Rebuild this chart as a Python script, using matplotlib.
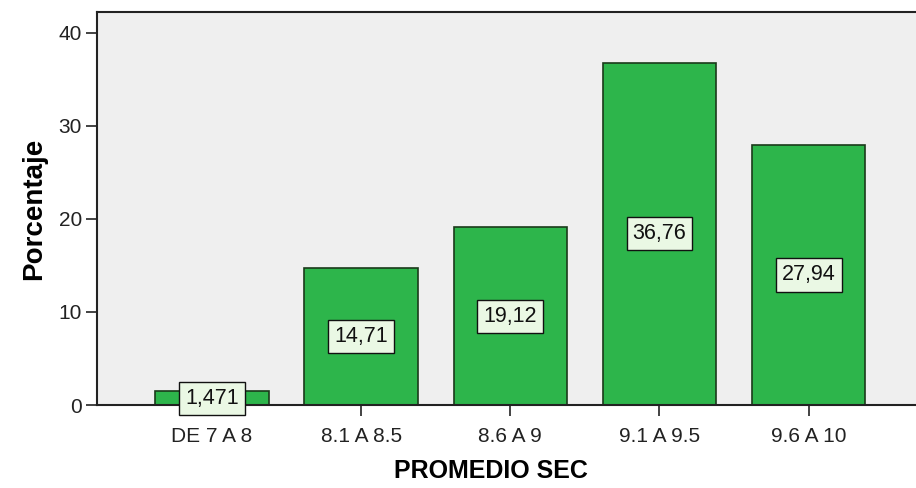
import matplotlib
matplotlib.use("Agg")
import matplotlib.pyplot as plt

categories = ["DE 7 A 8", "8.1 A 8.5", "8.6 A 9", "9.1 A 9.5", "9.6 A 10"]
percentages = [1.471, 14.71, 19.12, 36.76, 27.94]
value_labels = ["1,471", "14,71", "19,12", "36,76", "27,94"]
y_ticks = [0, 10, 20, 30, 40]

plt.rcParams["font.family"] = ["Liberation Sans", "DejaVu Sans"]

fig = plt.figure(figsize=(9.16, 4.88), dpi=100, facecolor="white")
ax = fig.add_axes([0.106, 0.170, 0.894, 0.805])
ax.set_facecolor("#efefef")

x = list(range(len(categories)))
ax.bar(x, percentages, width=0.76, color="#2db54b", edgecolor="#1a3a1a",
       linewidth=1.2, zorder=2)

for xi, val, lab in zip(x, percentages, value_labels):
    ax.text(xi, val / 2, lab, ha="center", va="center", fontsize=15.5,
            color="#111111", zorder=4,
            bbox=dict(boxstyle="square,pad=0.28", facecolor="#eaf8e4",
                      edgecolor="#111111", linewidth=1.0))

ax.set_xlim(-0.77, 4.72)
ax.set_ylim(0, 42.2)
ax.set_xticks(x)
ax.set_xticklabels(categories, fontsize=15, color="#222222")
ax.set_yticks(y_ticks)
ax.set_yticklabels([str(t) for t in y_ticks], fontsize=15, color="#222222")
ax.tick_params(axis="both", direction="out", length=8, width=1.2,
               color="#222222", pad=3)
ax.tick_params(axis="x", pad=8)

for side in ["left", "top", "bottom"]:
    ax.spines[side].set_color("#222222")
    ax.spines[side].set_linewidth(1.5)
ax.spines["right"].set_visible(False)

ax.set_ylabel("Porcentaje", fontsize=20, fontweight="bold", labelpad=8)
fig.text(0.536, 0.035, "PROMEDIO SEC", fontsize=18, fontweight="bold",
         ha="center", va="center")

fig.savefig("out.png", dpi=100, facecolor="white")
